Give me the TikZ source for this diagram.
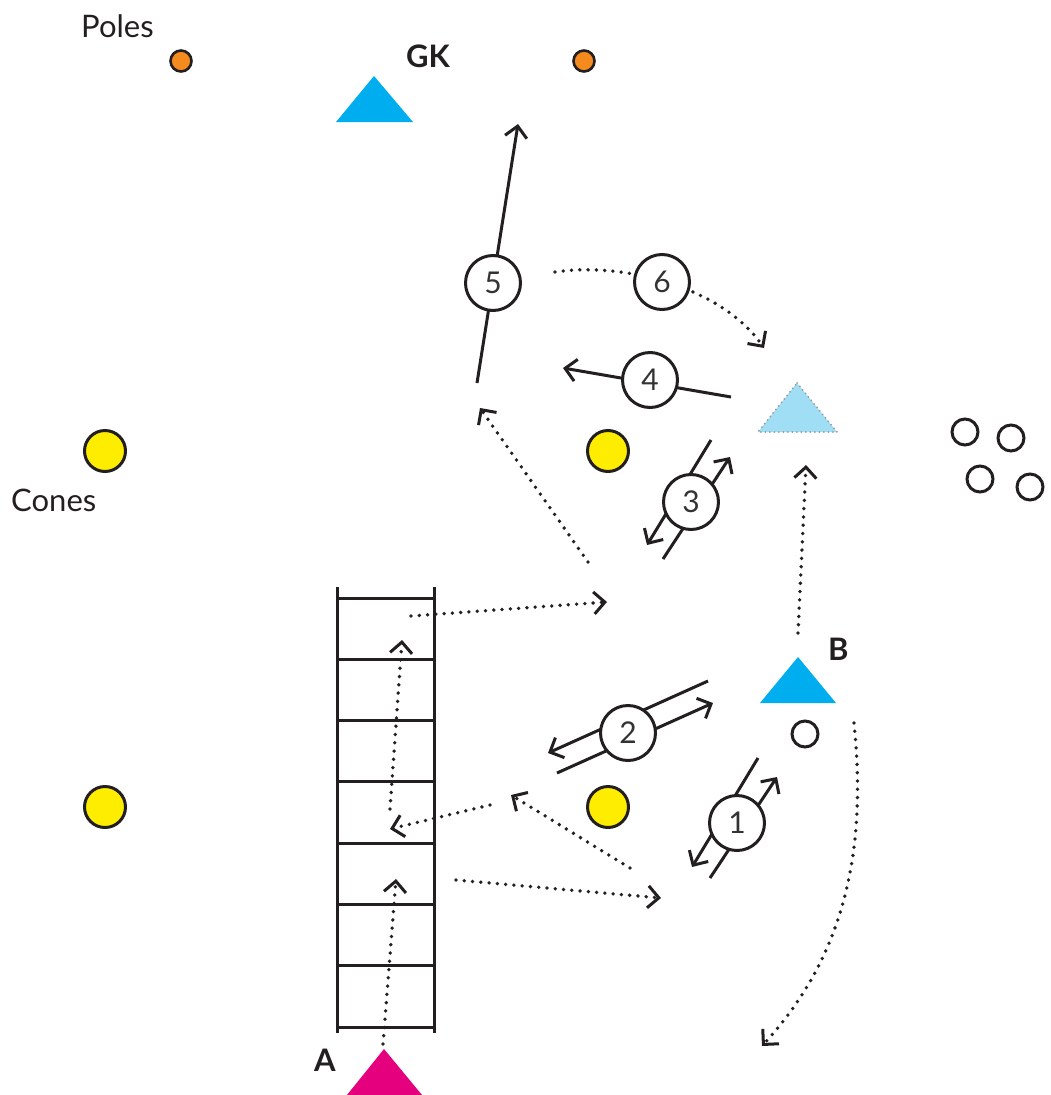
\documentclass[tikz,border=0pt]{standalone}
\usepackage{fontspec}
\setmainfont{Lato}
\usetikzlibrary{arrows.meta}
\pgfdeclarelayer{bg}
\pgfsetlayers{bg,main}

\definecolor{ink}{HTML}{231F20}
\definecolor{numink}{HTML}{333333}
\definecolor{playerblue}{HTML}{00AEEF}
\definecolor{ghostblue}{HTML}{A0DEF5}
\definecolor{ghostedge}{HTML}{9A9A9A}
\definecolor{magentaA}{HTML}{E5007D}
\definecolor{coneyellow}{HTML}{FFED00}
\definecolor{poleorange}{HTML}{F58A1F}

\tikzset{
  chev/.tip={Straight Barb[length=11pt,width=22pt,line width=3pt]},
  run/.style={draw=ink, line width=3pt, -chev},
  plainline/.style={draw=ink, line width=3pt},
  dotrun/.style={draw=ink, line width=3.8pt, line cap=round,
                 dash pattern=on 0pt off 8.3pt, -chev},
  numbox/.style={circle, draw=ink, line width=3pt, fill=white,
                 minimum size=55pt, inner sep=0pt, text=numink,
                 font=\fontsize{30}{30}\selectfont},
  cone/.style={circle, draw=ink, line width=3pt, fill=coneyellow,
               minimum size=41pt, inner sep=0pt},
  pole/.style={circle, draw=ink, line width=2.6pt, fill=poleorange,
               minimum size=21pt, inner sep=0pt},
  ball/.style={circle, draw=ink, line width=3pt, fill=white,
               minimum size=26pt, inner sep=0pt},
  lbl/.style={text=ink, inner sep=0pt, font=\fontsize{31}{31}\selectfont},
  boldlbl/.style={lbl, font=\fontsize{31}{31}\selectfont\bfseries},
}

\begin{document}
\begin{tikzpicture}[x=1pt, y=-1pt]
\useasboundingbox (0,0) rectangle (1051,1095);

% ---- labels ----
\node[lbl, anchor=base west] (lpoles) at (81,37) {Poles};
\node[lbl, anchor=base west] (lcones) at (11,511) {Cones};
\node[boldlbl, anchor=base west] (lgk) at (406,67) {GK};
\node[boldlbl, anchor=base west] (lb) at (828,660) {B};
\node[boldlbl, anchor=base west] (la) at (314,1071) {A};

% ---- poles ----
\node[pole] (pole1) at (181,61) {};
\node[pole] (pole2) at (584,61) {};

% ---- cones ----
\node[cone] (cone1) at (105,451) {};
\node[cone] (cone2) at (608,451) {};
\node[cone] (cone3) at (105,807) {};
\node[cone] (cone4) at (608,807) {};

% ---- balls ----
\node[ball] (ball1) at (965,432) {};
\node[ball] (ball2) at (1011,438) {};
\node[ball] (ball3) at (980,479) {};
\node[ball] (ball4) at (1030,487) {};
\node[ball] (ballB) at (805,734) {};

% ---- players ----
\fill[playerblue] (374,76) -- (413,122) -- (336,122) -- cycle;
\fill[playerblue] (798,657) -- (836,703) -- (760,703) -- cycle;
\fill[magentaA] (384,1049) -- (422,1095) -- (347,1095) -- cycle;
\filldraw[fill=ghostblue, draw=ghostedge, line width=2pt, line cap=round,
          dash pattern=on 0pt off 4.5pt] (797,383) -- (837,432) -- (758,432) -- cycle;

% ---- ladder ----
\draw[plainline] (337,587) -- (337,1033);
\draw[plainline] (434,587) -- (434,1033);
\foreach \k in {0,...,7}
  \draw[plainline] (337,598+61.3*\k) -- (434,598+61.3*\k);

% ---- numbered steps ----
\node[numbox] (n5) at (493,283) {5};
\node[numbox] (n6) at (662,282) {6};
\node[numbox] (n4) at (650,380) {4};
\node[numbox] (n3) at (691,502) {3};
\node[numbox] (n2) at (628,733) {2};
\node[numbox] (n1) at (737,823) {1};

% ---- end points of the runs and passes ----
\coordinate (s5a) at (477,383);   \coordinate (s5b) at (518,124);
\coordinate (s4a) at (731,397);   \coordinate (s4b) at (563,368);
\coordinate (s3a) at (711,440);   \coordinate (s3b) at (647,545);
\coordinate (s3c) at (663,559);   \coordinate (s3d) at (730,457);
\coordinate (s2a) at (708,681);   \coordinate (s2b) at (548,753);
\coordinate (s2c) at (557,773);   \coordinate (s2d) at (713,703);
\coordinate (s1a) at (758,758);   \coordinate (s1b) at (692,867);
\coordinate (s1c) at (710,878);   \coordinate (s1d) at (777,777);

\coordinate (d1a) at (383,1044);  \coordinate (d1b) at (396,879);
\coordinate (d2a) at (456,880);   \coordinate (d2b) at (661,898);
\coordinate (d3a) at (630,868);   \coordinate (d3b) at (511,795);
\coordinate (d4a) at (490,805);   \coordinate (d4b) at (390,829);
\coordinate (d5a) at (390,809);   \coordinate (d5b) at (402,640);
\coordinate (d6a) at (411,616);   \coordinate (d6b) at (607,602);
\coordinate (d7a) at (588,562);   \coordinate (d7b) at (480,408);
\coordinate (d8a) at (798,633);   \coordinate (d8b) at (806,465);
\coordinate (d9a) at (854,723);   \coordinate (d9b) at (762,1046);
\coordinate (d10a) at (555,272);  \coordinate (d10b) at (764,348);

\begin{pgfonlayer}{bg}
  % solid: passes and dribbles
  \draw[run] (s5a) -- (s5b);
  \draw[run] (s4a) -- (s4b);
  \draw[run] (s3a) -- (s3b);
  \draw[run] (s3c) -- (s3d);
  \draw[run] (s2a) -- (s2b);
  \draw[run] (s2c) -- (s2d);
  \draw[run] (s1a) -- (s1b);
  \draw[run] (s1c) -- (s1d);
  % dotted: player movements
  \draw[dotrun] (d1a) -- (d1b);
  \draw[dotrun] (d2a) -- (d2b);
  \draw[dotrun] (d3a) -- (d3b);
  \draw[dotrun] (d4a) -- (d4b);
  \draw[dotrun] (d5a) -- (d5b);
  \draw[dotrun] (d6a) -- (d6b);
  \draw[dotrun] (d7a) -- (d7b);
  \draw[dotrun] (d8a) -- (d8b);
  \draw[dotrun] (d9a) .. controls (866,840) and (850,950) .. (d9b);
  \draw[dotrun] (d10a) .. controls (620,262) and (720,285) .. (d10b);
\end{pgfonlayer}
\end{tikzpicture}
\end{document}
